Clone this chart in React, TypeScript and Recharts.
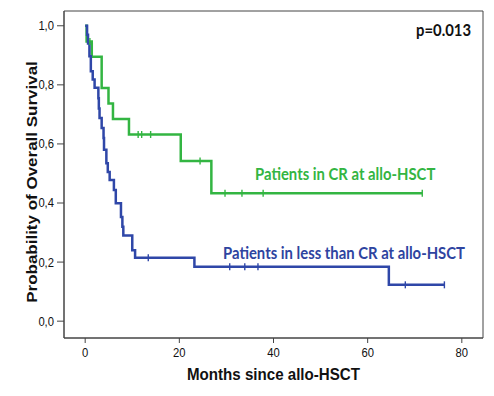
import React from "react";
import {
  ComposedChart,
  Line,
  Scatter,
  XAxis,
  YAxis,
  ReferenceArea,
} from "recharts";

// Kaplan-Meier steps (months, survival)
const crTimes = [0, 0.3, 1.4, 3.5, 4.95, 5.9, 9.3, 20.3, 26.8, 71.6];
const crSurv = [1.0, 0.947, 0.895, 0.789, 0.737, 0.684, 0.632, 0.542, 0.433, 0.433];
const crCensored = [1.0, 11.25, 12.0, 13.9, 24.4, 29.7, 33.3, 37.8, 71.6];

const lessTimes = [
  0, 0.4, 0.6, 0.9, 1.2, 1.6, 2.0, 2.8, 2.9, 3.05, 3.5, 3.9, 4.0, 4.5, 4.8, 5.2,
  6.1, 6.5, 7.6, 7.9, 8.1, 10.0, 10.6, 23.2, 64.5, 76.3,
];
const lessSurv = [
  1.0, 0.97, 0.94, 0.897, 0.846, 0.818, 0.79, 0.755, 0.72, 0.688, 0.654, 0.62,
  0.58, 0.535, 0.505, 0.478, 0.444, 0.399, 0.353, 0.32, 0.29, 0.24, 0.215, 0.184,
  0.123, 0.123,
];
const lessCensored = [13.4, 30.7, 33.9, 36.7, 68.0, 76.3];

const xTicks = [0, 20, 40, 60, 80];
const yTicks = [0, 0.2, 0.4, 0.6, 0.8, 1.0];
const xDomain = [-4.5, 84.5];
const yDomain = [-0.057, 1.05];

const GREEN = "#33b542";
const BLUE = "#2f47a8";
const AXIS = "#444444";
const ARIAL = "'Liberation Sans', Arial, sans-serif";
const SANS = "Lato, sans-serif";
// the source image is a little squeezed sideways
const SQ = "scale(0.9,1)";

function toRows(times: number[], surv: number[]) {
  return times.map((t, i) => ({ t, s: surv[i] }));
}

// survival value of the step curve at time t
function survAt(times: number[], surv: number[], t: number) {
  let v = surv[0];
  for (let i = 0; i < times.length; i++) {
    if (times[i] <= t) v = surv[i];
  }
  return v;
}

function censorRows(cens: number[], times: number[], surv: number[]) {
  return cens.map((t) => ({ t, s: survAt(times, surv, t) }));
}

const crData = toRows(crTimes, crSurv);
const lessData = toRows(lessTimes, lessSurv);
const crCens = censorRows(crCensored, crTimes, crSurv);
const lessCens = censorRows(lessCensored, lessTimes, lessSurv);

const tickShape = (color: string) => (props: any) => {
  const { cx, cy } = props;
  if (cx == null || cy == null) return <g />;
  return <line x1={cx} x2={cx} y1={cy - 3.5} y2={cy + 3.5} stroke={color} strokeWidth={1.4} />;
};

function XTick(props: any) {
  const { x, y, payload } = props;
  return (
    <text transform={`translate(${x},${y}) ${SQ}`} dy="0.71em" textAnchor="middle" fontSize={12.5} fontFamily={ARIAL} fill="#111">
      {payload.value}
    </text>
  );
}

function YTick(props: any) {
  const { x, y, payload } = props;
  return (
    <text transform={`translate(${x},${y}) ${SQ}`} dy="0.355em" textAnchor="end" fontSize={12.5} fontFamily={ARIAL} fill="#111">
      {Number(payload.value).toFixed(1).replace(".", ",")}
    </text>
  );
}

export default function App() {
  return (
    <div style={{ position: "absolute", left: 0, top: 0, background: "#fff" }}>
      <ComposedChart
        width={494}
        height={396}
        margin={{ top: 11, right: 11, bottom: 0, left: 0 }}
      >
        <XAxis
          dataKey="t"
          type="number"
          domain={xDomain}
          ticks={xTicks}
          allowDataOverflow
          height={58}
          tickSize={5}
          tickMargin={5}
          tick={<XTick />}
          stroke={AXIS}
        />
        <YAxis
          dataKey="s"
          type="number"
          domain={yDomain}
          ticks={yTicks}
          allowDataOverflow
          width={64}
          tickSize={7}
          tickMargin={3}
          tick={<YTick />}
          stroke={AXIS}
        />
        <ReferenceArea
          x1={xDomain[0]}
          x2={xDomain[1]}
          y1={yDomain[0]}
          y2={yDomain[1]}
          fill="none"
          fillOpacity={0}
          stroke={AXIS}
          strokeWidth={1}
          ifOverflow="visible"
        />
        <Line
          data={crData}
          dataKey="s"
          type="stepAfter"
          stroke={GREEN}
          strokeWidth={2.5}
          dot={false}
          isAnimationActive={false}
        />
        <Line
          data={lessData}
          dataKey="s"
          type="stepAfter"
          stroke={BLUE}
          strokeWidth={2.5}
          dot={false}
          isAnimationActive={false}
        />
        <Scatter data={crCens} dataKey="s" shape={tickShape(GREEN)} isAnimationActive={false} />
        <Scatter data={lessCens} dataKey="s" shape={tickShape(BLUE)} isAnimationActive={false} />
        <text
          transform={`translate(273.5,380) ${SQ}`}
          textAnchor="middle"
          fontFamily={ARIAL}
          fontWeight="bold"
          fontSize={16.8}
          fill="#111"
        >
          Months since allo-HSCT
        </text>
        <text
          transform={`translate(37,182) ${SQ} rotate(-90)`}
          textAnchor="middle"
          fontFamily={ARIAL}
          fontWeight="bold"
          fontSize={17}
          fill="#111"
        >
          Probability of Overall Survival
        </text>
        <text transform={`translate(471,36) ${SQ}`} textAnchor="end" fontFamily={SANS} fontWeight="bold" fontSize={16.5} fill="#111">
          p=0.013
        </text>
        <text transform={`translate(255,180) ${SQ}`} fontFamily={SANS} fontWeight="bold" fontSize={16.5} fill={GREEN}>
          Patients in CR at allo-HSCT
        </text>
        <text transform={`translate(223,258.5) ${SQ}`} fontFamily={SANS} fontWeight="bold" fontSize={16.5} fill="#2e44a0">
          Patients in less than CR at allo-HSCT
        </text>
      </ComposedChart>
    </div>
  );
}
